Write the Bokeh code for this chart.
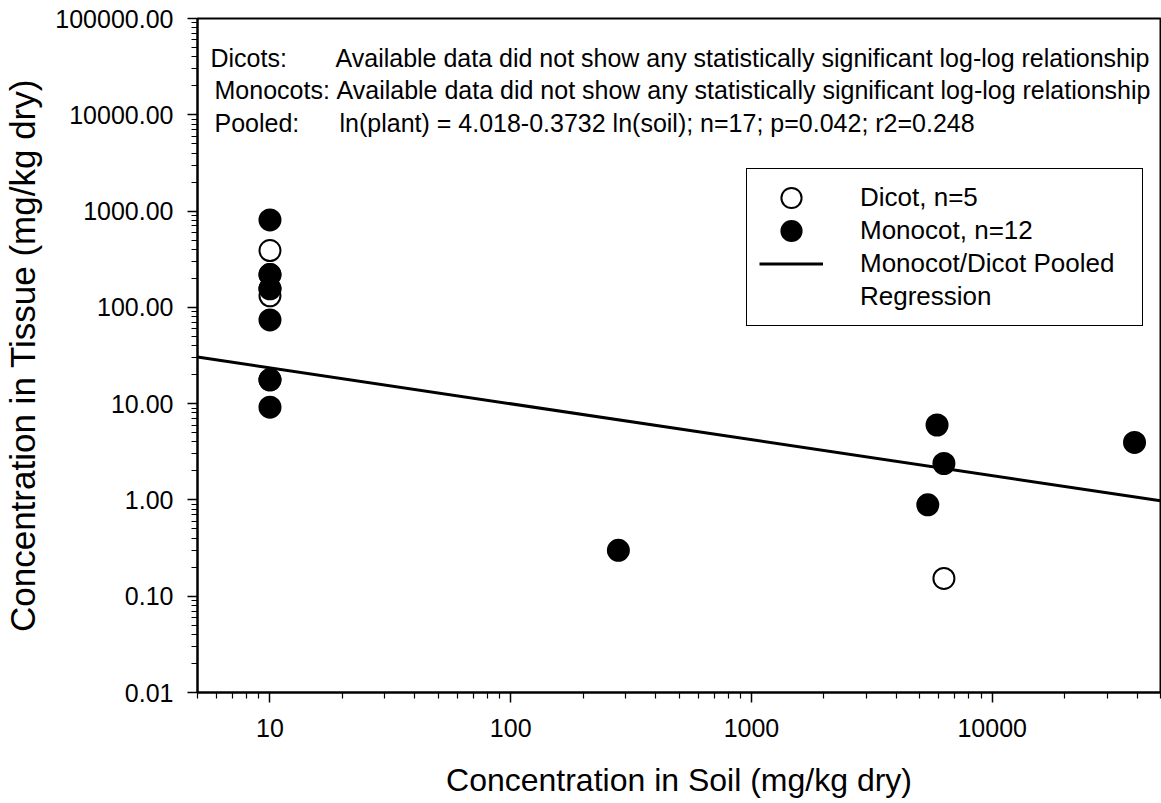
from bokeh.plotting import figure
from bokeh.models import FixedTicker, CustomJSTickFormatter, Legend, LegendItem, Label
from bokeh.embed import file_html
from bokeh.resources import INLINE

# ---- data ----
dicot_soil = [10, 10, 10, 10, 6300]
dicot_tissue = [389, 132, 156, 219, 0.153]
mono_soil = [10, 10, 10, 10, 10, 10, 10, 280, 5400, 5900, 6300, 39000]
mono_tissue = [810, 219, 156, 74, 17.7, 17.7, 9.2, 0.30, 0.89, 6.0, 2.39, 3.95]
reg_soil = [5, 50000]
reg_tissue = [30.5, 0.98]

x_major = [10, 100, 1000, 10000]
y_major = [0.01, 0.1, 1, 10, 100, 1000, 10000, 100000]

ann_heads = ["Dicots:", "Monocots:", "Pooled:"]
ann_bodies = [
    "Available data did not show any statistically significant log-log relationship",
    "Available data did not show any statistically significant log-log relationship",
    "ln(plant) = 4.018-0.3732 ln(soil); n=17; p=0.042; r2=0.248",
]

FONT = "Liberation Sans"

x_minor = [m * 10 ** d for d in range(0, 5) for m in range(2, 10) if 5 <= m * 10 ** d <= 50000]
y_minor = [m * 10.0 ** d for d in range(-2, 5) for m in range(2, 10)]

p = figure(width=1161, height=800, x_axis_type="log", y_axis_type="log",
           x_range=(5, 50000), y_range=(0.01, 100000),
           output_backend="svg", toolbar_location=None,
           min_border_left=196, min_border_top=18, min_border_right=1,
           min_border_bottom=108)

p.xgrid.visible = False
p.ygrid.visible = False
p.outline_line_color = "black"
p.outline_line_alpha = 1
p.outline_line_width = 2
p.background_fill_color = "white"
p.border_fill_color = "white"

p.xaxis.ticker = FixedTicker(ticks=x_major, minor_ticks=x_minor)
p.yaxis.ticker = FixedTicker(ticks=y_major, minor_ticks=y_minor)
p.xaxis.formatter = CustomJSTickFormatter(code="return tick.toFixed(0);")
p.yaxis.formatter = CustomJSTickFormatter(code="return tick.toFixed(2);")

for ax in (p.xaxis, p.yaxis):
    ax.axis_line_color = "black"
    ax.axis_line_width = 2
    ax.major_tick_line_color = "black"
    ax.minor_tick_line_color = "black"
    ax.major_tick_line_width = 1.5
    ax.minor_tick_line_width = 1.2
    ax.major_tick_in = 0
    ax.major_tick_out = 10
    ax.minor_tick_in = 0
    ax.minor_tick_out = 6
    ax.major_label_text_font = FONT
    ax.major_label_text_font_size = "25px"
    ax.major_label_text_color = "black"
    ax.axis_label_text_font = FONT
    ax.axis_label_text_font_style = "normal"
    ax.axis_label_text_color = "black"

p.xaxis.axis_label = "Concentration in Soil (mg/kg dry)"
p.yaxis.axis_label = "Concentration in Tissue (mg/kg dry)"
p.xaxis.axis_label_text_font_size = "32px"
p.yaxis.axis_label_text_font_size = "35px"
p.xaxis.major_label_standoff = 16
p.yaxis.major_label_standoff = 14
p.xaxis.axis_label_standoff = 22
p.yaxis.axis_label_standoff = 10

reg = p.line(reg_soil, reg_tissue, line_color="black", line_width=3)
# open circles: black disc with a white disc on top -> 2px ring
dic_ring = p.scatter(dicot_soil, dicot_tissue, marker="circle", size=14,
                     fill_color="black", line_color="black", line_width=9)
dic_face = p.scatter(dicot_soil, dicot_tissue, marker="circle", size=14,
                     fill_color="white", line_color="white", line_width=5)
mon = p.scatter(mono_soil, mono_tissue, marker="circle", size=14,
                fill_color="black", line_color="black", line_width=9)
dummy = p.line([], [], line_alpha=0)

legend = Legend(items=[
    LegendItem(label="Dicot, n=5", renderers=[dic_ring, dic_face]),
    LegendItem(label="Monocot, n=12", renderers=[mon]),
    LegendItem(label="Monocot/Dicot Pooled", renderers=[reg]),
    LegendItem(label="Regression", renderers=[dummy]),
], location=(549, 366))
legend.label_text_font = FONT
legend.label_text_font_size = "26px"
legend.label_text_color = "black"
legend.glyph_width = 64
legend.glyph_height = 33
legend.label_height = 33
legend.label_width = 270
legend.spacing = 0
legend.label_standoff = 37
legend.padding = 12
legend.border_line_color = "black"
legend.border_line_alpha = 1
legend.border_line_width = 1.5
legend.background_fill_color = "white"
legend.background_fill_alpha = 1
p.add_layout(legend, "center")

ann_y = [635, 603, 570]
head_x = [13, 17, 17]
body_x = [138, 139, 142]
for i in range(3):
    p.add_layout(Label(x=head_x[i], y=ann_y[i], x_units="screen", y_units="screen",
                       text=ann_heads[i], text_font=FONT, text_font_size="25px",
                       text_baseline="middle", text_color="black"))
    p.add_layout(Label(x=body_x[i], y=ann_y[i], x_units="screen", y_units="screen",
                       text=ann_bodies[i], text_font=FONT, text_font_size="25px",
                       text_baseline="middle", text_color="black"))

open("out.html", "w").write(file_html(p, INLINE))
